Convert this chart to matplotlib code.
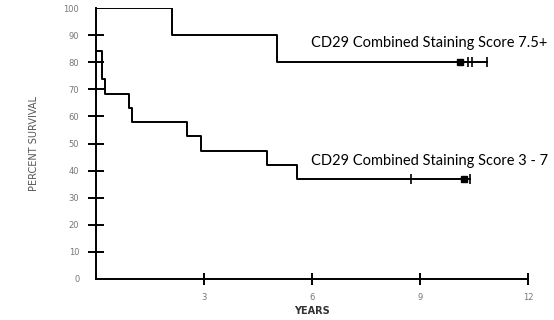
import matplotlib.pyplot as plt

# Kaplan-Meier steps
hi_t = [0, 2.1, 5.03, 10.87]
hi_s = [100, 90, 80, 80]
hi_cens_t = [10.33, 10.45, 10.87]
hi_sq_t = [10.12]

lo_t = [0, 0.18, 0.25, 0.93, 1.0, 2.52, 2.93, 4.75, 5.57, 10.4]
lo_s = [84.2, 73.7, 68.4, 63.2, 57.9, 52.6, 47.4, 42.1, 36.8, 36.8]
lo_cens_t = [8.75, 10.4]
lo_sq_t = [10.22]

x_ticks = [3, 6, 9, 12]
y_ticks = list(range(0, 101, 10))

label_hi = 'CD29 Combined Staining Score 7.5+'
label_lo = 'CD29 Combined Staining Score 3 - 7'

fig = plt.figure(figsize=(5.54, 3.2), dpi=100)
ax = fig.add_axes([96/554, 41/320, 432/554, 271/320])

lw = 1.4
ax.step(hi_t, hi_s, where='post', color='black', lw=lw)
ax.step(lo_t, lo_s, where='post', color='black', lw=lw)

ax.plot(hi_cens_t, [hi_s[-1]]*len(hi_cens_t), '|', color='black', ms=7, mew=1.2)
ax.plot(hi_sq_t, [hi_s[-1]], 's', color='black', ms=5)
ax.plot(lo_cens_t, [lo_s[-1]]*len(lo_cens_t), '|', color='black', ms=7, mew=1.2)
ax.plot(lo_sq_t, [lo_s[-1]], 's', color='black', ms=5)

ax.set_xlim(0, 12)
ax.set_ylim(0, 100)
for s in ['top', 'right']:
    ax.spines[s].set_visible(False)
for s in ['left', 'bottom']:
    ax.spines[s].set_linewidth(1.4)

ax.set_xticks(x_ticks)
ax.set_yticks(y_ticks)
ax.tick_params(axis='y', direction='inout', length=12, width=1.4, colors='black',
               labelcolor='#777777', labelsize=6, pad=6)
ax.tick_params(axis='x', direction='inout', length=8, width=1.4, colors='black',
               labelcolor='#777777', labelsize=6, pad=6)
# no tick marks at 0 and 100
ax.yaxis.get_major_ticks()[0].tick1line.set_visible(False)
ax.yaxis.get_major_ticks()[-1].tick1line.set_visible(False)

ax.set_ylabel('PERCENT SURVIVAL', fontsize=7, color='#555555', labelpad=18)
ax.set_xlabel('YEARS', fontsize=7, color='#333333', fontweight='bold', labelpad=3)

ax.text(5.97, 87, label_hi, fontsize=10.5, family='Lato', va='center', ha='left')
ax.text(5.97, 43.5, label_lo, fontsize=10.5, family='Lato', va='center', ha='left')

fig.savefig('out.png', dpi=100)
